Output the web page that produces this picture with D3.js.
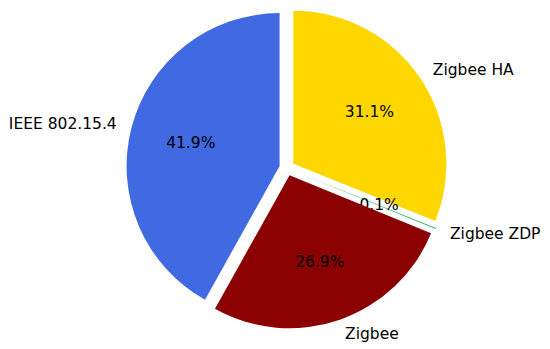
<!DOCTYPE html>
<html>
<head>
<meta charset="utf-8">
<script src="https://cdn.jsdelivr.net/npm/d3@7"></script>
<style>
  body { margin: 0; background: #fff; }
  text { font-family: 'DejaVu Sans', sans-serif; font-size: 15.5px; fill: #000; }
</style>
</head>
<body>
<div id="graph"></div>
<script>
// slice data, clockwise from 12 o'clock
var labels = ['Zigbee HA', 'Zigbee ZDP', 'Zigbee', 'IEEE 802.15.4'];
var shares = [31.1, 0.1, 26.9, 41.9];
var colors = ['#ffd700', '#3cb371', '#8b0000', '#4169e1'];

var width = 550, height = 349;
var cx = 287, cy = 168, radius = 153;
var explode = 0.05, pctDist = 0.6, labelDist = 1.1;

var svg = d3.select('#graph').append('svg')
    .attr('width', width)
    .attr('height', height);

var pie = d3.pie()
    .sort(null)
    .value(function(d) { return d; });

var arc = d3.arc()
    .innerRadius(0)
    .outerRadius(radius);

var arcs = pie(shares);

function mid(d) { return (d.startAngle + d.endAngle) / 2; }

var node = svg.selectAll('.slice')
    .data(arcs)
  .enter().append('g')
    .attr('class', 'slice')
    .attr('transform', function(d) {
      var a = mid(d), off = explode * radius;
      return 'translate(' + (cx + off * Math.sin(a)) + ',' + (cy - off * Math.cos(a)) + ')';
    });

node.append('path')
    .attr('d', arc)
    .style('fill', function(d, i) { return colors[i]; });

node.append('text')
    .attr('x', function(d) { return pctDist * radius * Math.sin(mid(d)); })
    .attr('y', function(d) { return -pctDist * radius * Math.cos(mid(d)); })
    .attr('dominant-baseline', 'central')
    .style('text-anchor', 'middle')
    .text(function(d) { return d.value.toFixed(1) + '%'; });

node.append('text')
    .attr('x', function(d) { return labelDist * radius * Math.sin(mid(d)); })
    .attr('y', function(d) { return -labelDist * radius * Math.cos(mid(d)); })
    .attr('dominant-baseline', 'central')
    .style('text-anchor', function(d) { return Math.sin(mid(d)) > 0 ? 'start' : 'end'; })
    .text(function(d, i) { return labels[i]; });
</script>
</body>
</html>
